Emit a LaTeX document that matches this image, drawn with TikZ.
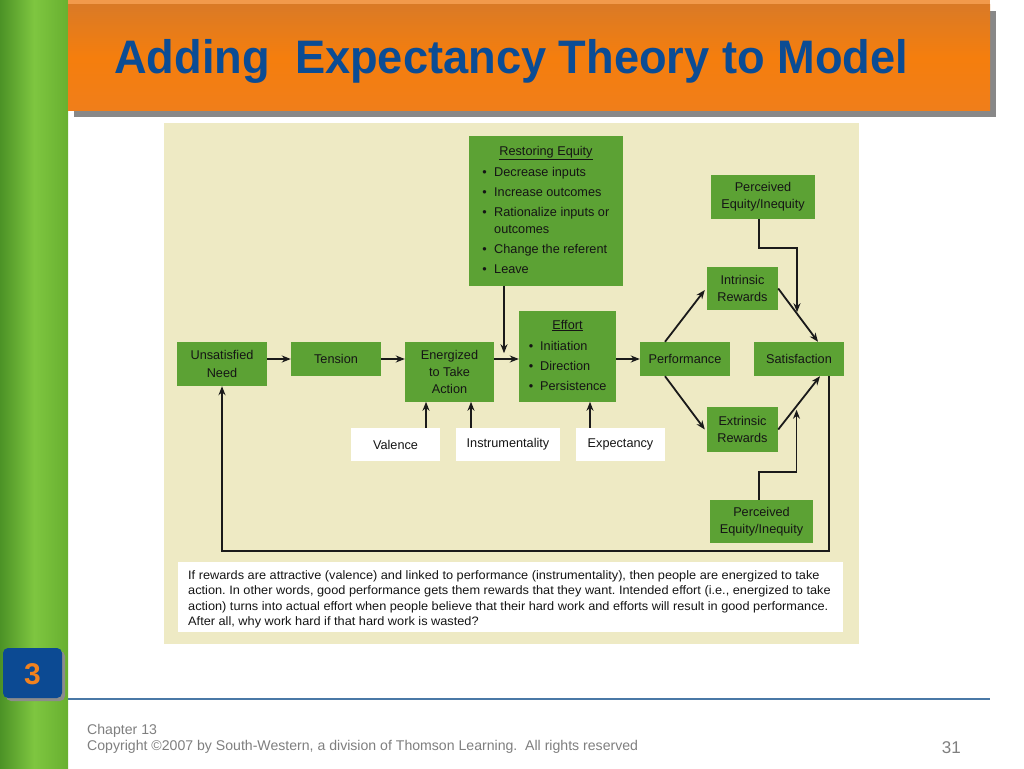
\documentclass[tikz,border=0pt]{standalone}
\usepackage{fontspec}
\setmainfont{Liberation Sans}
\usetikzlibrary{arrows.meta,calc}
\definecolor{boxgreen}{HTML}{5CA234}
\definecolor{beige}{HTML}{EEEAC4}
\definecolor{titleblue}{HTML}{0B4C94}
\definecolor{darkline}{HTML}{1A1A1A}
\definecolor{boxtext}{HTML}{151515}
\definecolor{footgray}{HTML}{7F7F7F}
\definecolor{rulecol}{HTML}{4A78A6}
\definecolor{numblue}{HTML}{0C4A93}
\definecolor{numorange}{HTML}{F2821E}
\definecolor{barleft}{RGB}{76,146,38}
\definecolor{barmid}{RGB}{126,198,64}
\definecolor{barright}{RGB}{104,176,48}
\definecolor{orstrip}{RGB}{242,154,76}
\definecolor{shadowgray}{RGB}{136,136,136}
\definecolor{ortop}{RGB}{218,122,38}
\definecolor{ormid}{RGB}{245,126,13}
\definecolor{orbot}{RGB}{240,126,26}
\definecolor{badgeshadow}{RGB}{140,140,140}
\tikzset{
  gbox/.style={fill=boxgreen, draw=none, inner sep=0pt, align=center, text=boxtext,
    font=\fontsize{12.7}{17.4}\selectfont},
  wbox/.style={fill=white, draw=none, inner sep=0pt, align=center, text=boxtext,
    font=\fontsize{12.7}{17.4}\selectfont},
  lbl/.style={inner sep=0pt, text=boxtext, font=\fontsize{12.7}{17.4}\selectfont},
  para/.style={inner sep=0pt, anchor=base west, text=boxtext, font=\fontsize{12.2}{15.5}\selectfont\frenchspacing},
  arr/.style={draw=darkline, line width=1.8pt, -{Stealth[length=9pt,width=7pt]}},
  foot/.style={inner sep=0pt, anchor=base west, text=footgray, font=\fontsize{14.1}{16}\selectfont}
}
\newcommand{\pline}[1]{\scalebox{1.045}[1]{#1}}
\begin{document}
\begin{tikzpicture}[x=1pt,y=-1pt]
\useasboundingbox (0,0) rectangle (1024,768);
\fill[white] (0,0) rectangle (1024,768);
% left bar
\shade[left color=barleft, right color=barright, middle color=barmid] (0,0) rectangle (68,768);
% header
\fill[orstrip] (68,0) rectangle (990,5);
\fill[shadowgray] (74,11) rectangle (996,117);
\shade[top color=ortop, bottom color=orbot, middle color=ormid] (68,5) rectangle (990,110);
\node[inner sep=0pt, anchor=base west, text=titleblue, font=\fontsize{47}{50}\selectfont\bfseries] (title) at (114,73)
  {\scalebox{0.962}[1]{Adding\ \ Expectancy Theory to Model}};
% beige panel
\fill[beige] (164,123) rectangle (859,644);
% boxes
\node[gbox, minimum width=154pt, minimum height=150pt] (res) at (546,211) {};
\node[lbl, anchor=base] (rest) at (546,155.5) {\underline{Restoring Equity}};
\foreach \yy/\txt in {176.5/Decrease inputs, 196.5/Increase outcomes, 216.5/Rationalize inputs or, 253.5/Change the referent, 273.5/Leave}{
  \node[lbl, anchor=base] at (484.5,\yy) {•};
  \node[lbl, anchor=base west] at (494,\yy) {\txt};
}
\node[lbl, anchor=base west] (resout) at (494,233.5) {outcomes};

\node[gbox, minimum width=90pt, minimum height=44pt] (un) at (222,364) {Unsatisfied\\Need};
\node[gbox, minimum width=90pt, minimum height=34pt] (ten) at (336,359) {Tension};
\node[gbox, minimum width=89pt, minimum height=60pt] (ene) at (449.5,372) {Energized\\to Take\\Action};
\node[gbox, minimum width=97pt, minimum height=91pt] (eff) at (567.5,356.5) {};
\node[lbl, anchor=base] (efft) at (567.5,329) {\underline{Effort}};
\foreach \yy/\txt in {350.5/Initiation, 370.5/Direction, 390.5/Persistence}{
  \node[lbl, anchor=base] at (531,\yy) {•};
  \node[lbl, anchor=base west] at (540,\yy) {\txt};
}
\node[gbox, minimum width=90pt, minimum height=34pt] (perf) at (685,359) {Performance};
\node[gbox, minimum width=90pt, minimum height=34pt] (sat) at (799,359) {Satisfaction};
\node[gbox, minimum width=71pt, minimum height=43pt] (intr) at (742.5,288.5) {Intrinsic\\Rewards};
\node[gbox, minimum width=71pt, minimum height=45pt] (extr) at (742.5,429.5) {Extrinsic\\Rewards};
\node[gbox, minimum width=104pt, minimum height=44pt] (pe1) at (763,197) {Perceived\\Equity/Inequity};
\node[gbox, minimum width=103pt, minimum height=43pt] (pe2) at (761.5,521.5) {Perceived\\Equity/Inequity};
\node[wbox, minimum width=89pt, minimum height=33pt] (val) at (395.5,444.5) {Valence};
\node[wbox, minimum width=104pt, minimum height=33pt] (ins) at (508,444.5) {Instrumentality};
\node[wbox, minimum width=89pt, minimum height=33pt] (exp) at (620.5,444.5) {Expectancy};

% connectors
\draw[arr] (un.east |- ten.west) -- (ten.west);
\draw[arr] (ten.east) -- (ten.east -| ene.west);
\draw[arr] (ene.east |- ten.east) -- (eff.west |- ten.east);
\draw[arr] ([xshift=-42pt]res.south) -- ++(0,67);
\draw[arr] (eff.east |- perf.west) -- (perf.west);
\draw[arr] ([xshift=-20pt]perf.north) -- ([xshift=-2pt,yshift=-1.5pt]intr.west);
\draw[arr] ([xshift=-20pt]perf.south) -- ([xshift=-2pt]extr.west);
\draw[arr] (intr.east) -- ([xshift=19pt]sat.north);
\draw[arr] (extr.east) -- ([xshift=21pt]sat.south);
\draw[arr] ([xshift=-4pt]pe1.south) -- ++(0,29) -- ++(38,0) -- ++(0,64);
\draw[arr] ([xshift=-2.5pt]pe2.north) -- ++(0,-28) -- ++(37.5,0) -- ++(0,-62);
\draw[arr] ([xshift=30pt]sat.south) -- ++(0,175) -| (un.south);
\draw[arr] ([xshift=30.5pt]val.north) -- ++(0,-26);
\draw[arr] ([xshift=-37pt]ins.north) -- ++(0,-26);
\draw[arr] ([xshift=-30.5pt]exp.north) -- ++(0,-26);

% text panel
\fill[white] (178,562) rectangle (843,632);
\node[para] (p1) at (188,579) {\pline{If rewards are attractive (valence) and linked to performance (instrumentality), then people are energized to take}};
\node[para] (p2) at (188,594.5) {\pline{action. In other words, good performance gets them rewards that they want. Intended effort (i.e., energized to take}};
\node[para] (p3) at (188,610) {\pline{action) turns into actual effort when people believe that their hard work and efforts will result in good performance.}};
\node[para] (p4) at (188,625.5) {\pline{After all, why work hard if that hard work is wasted?}};

% number badge
\fill[badgeshadow, rounded corners=5pt] (6,651) rectangle (65,701);
\fill[numblue, rounded corners=5pt] (3,648) rectangle (62,698);
\node[inner sep=0pt, text=numorange, font=\fontsize{30}{30}\selectfont\bfseries] (num) at (32.5,674) {3};
% footer
\draw[rulecol, line width=1.2pt] (68,699) -- (990,699);
\node[foot] (ch) at (87,734) {Chapter 13};
\node[foot] (cp) at (87,750) {Copyright ©2007 by South-Western, a division of Thomson Learning.\ \ All rights reserved};
\node[inner sep=0pt, anchor=base east, text=footgray, font=\fontsize{17}{18}\selectfont] (pg) at (961,753) {31};
\end{tikzpicture}
\end{document}
